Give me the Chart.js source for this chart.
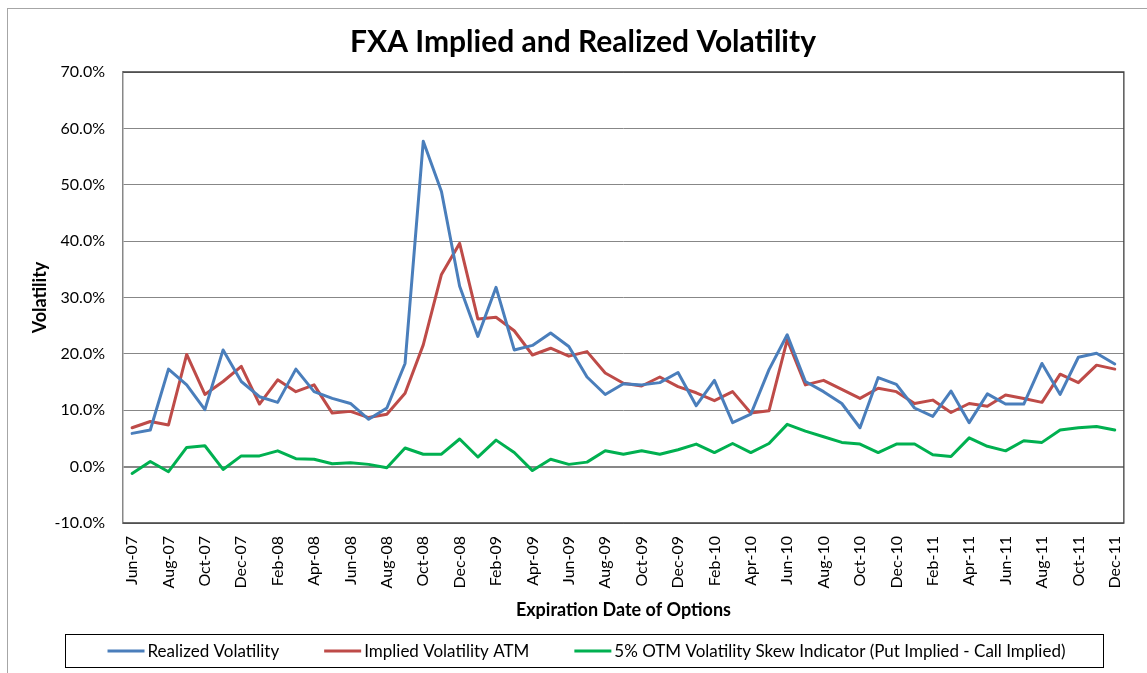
<!DOCTYPE html>
<html>
<head>
<meta charset="utf-8">
<script src="https://cdn.jsdelivr.net/npm/chart.js@4/dist/chart.umd.min.js"></script>
<style>
  html, body { margin: 0; padding: 0; background: #fff; }
  #wrap { width: 1147px; height: 673px; position: relative; }
</style>
</head>
<body>
<div id="wrap"><canvas id="chart"></canvas></div>
<script>
// — Data (percent values) —
const months = [
  'Jun-07','Jul-07','Aug-07','Sep-07','Oct-07','Nov-07','Dec-07',
  'Jan-08','Feb-08','Mar-08','Apr-08','May-08','Jun-08','Jul-08','Aug-08','Sep-08','Oct-08','Nov-08','Dec-08',
  'Jan-09','Feb-09','Mar-09','Apr-09','May-09','Jun-09','Jul-09','Aug-09','Sep-09','Oct-09','Nov-09','Dec-09',
  'Jan-10','Feb-10','Mar-10','Apr-10','May-10','Jun-10','Jul-10','Aug-10','Sep-10','Oct-10','Nov-10','Dec-10',
  'Jan-11','Feb-11','Mar-11','Apr-11','May-11','Jun-11','Jul-11','Aug-11','Sep-11','Oct-11','Nov-11','Dec-11'
];

const realizedVol = [
  5.9, 6.5, 17.3, 14.5, 10.1, 20.7, 15.1, 12.4, 11.4, 17.3,
  13.3, 12.1, 11.2, 8.4, 10.4, 18.3, 57.7, 48.8, 32.0, 23.1,
  31.8, 20.7, 21.5, 23.7, 21.3, 15.9, 12.8, 14.7, 14.5, 14.9,
  16.7, 10.8, 15.3, 7.8, 9.3, 17.2, 23.4, 15.1, 13.3, 11.2,
  6.9, 15.8, 14.6, 10.4, 8.9, 13.4, 7.8, 12.9, 11.1, 11.1,
  18.3, 12.8, 19.4, 20.1, 18.2
];

const impliedVolATM = [
  6.9, 8.0, 7.4, 19.9, 12.8, 15.1, 17.8, 11.1, 15.4, 13.3,
  14.5, 9.5, 9.8, 8.7, 9.3, 13.0, 21.6, 34.1, 39.6, 26.2,
  26.5, 24.1, 19.8, 21.0, 19.6, 20.4, 16.6, 14.8, 14.3, 15.9,
  14.2, 13.1, 11.7, 13.3, 9.5, 9.9, 22.5, 14.5, 15.3, 13.7,
  12.1, 13.9, 13.3, 11.2, 11.8, 9.6, 11.2, 10.7, 12.7, 12.1,
  11.4, 16.4, 14.9, 18.0, 17.3
];

const skewIndicator = [
  -1.2, 0.9, -0.9, 3.4, 3.7, -0.5, 1.9, 1.9, 2.8, 1.4,
  1.3, 0.5, 0.7, 0.4, -0.2, 3.3, 2.2, 2.2, 4.9, 1.7,
  4.7, 2.5, -0.7, 1.3, 0.4, 0.8, 2.8, 2.2, 2.8, 2.2,
  3.0, 4.0, 2.5, 4.1, 2.5, 4.1, 7.5, 6.3, 5.3, 4.3,
  4.0, 2.5, 4.0, 4.0, 2.1, 1.8, 5.1, 3.6, 2.8, 4.6,
  4.3, 6.5, 6.9, 7.1, 6.5
];

const seriesNames  = ['Realized Volatility', 'Implied Volatility ATM',
                      '5% OTM Volatility Skew Indicator (Put Implied - Call Implied)'];
const seriesColors = ['#4A7EBB', '#BE4B48', '#00B050'];

const chartTitle = 'FXA Implied and Realized Volatility';
const xTitle     = 'Expiration Date of Options';
const yTitle     = 'Volatility';

const FONT = 'Lato, "Liberation Sans", sans-serif';

// — Excel-style decorations: outer frame, plot frame, titles, boxed legend —
const excelDecor = {
  id: 'excelDecor',
  beforeDraw(chart) {
    const ctx = chart.ctx;
    ctx.save();
    ctx.fillStyle = '#fff';
    ctx.fillRect(0, 0, chart.width, chart.height);
    ctx.strokeStyle = '#a6a6a6';
    ctx.lineWidth = 1;
    ctx.strokeRect(7.5, 8.5, chart.width + 20, chart.height + 20);
    ctx.restore();
  },
  beforeDatasetsDraw(chart) {
    const { ctx, chartArea: a } = chart;
    ctx.save();
    ctx.strokeStyle = '#3f3f3f';
    ctx.lineWidth = 1.3;
    ctx.beginPath();
    ctx.moveTo(a.left, a.top);
    ctx.lineTo(a.right, a.top);
    ctx.lineTo(a.right, a.bottom);
    ctx.lineTo(a.left, a.bottom);
    ctx.stroke();
    ctx.restore();
  },
  afterDraw(chart) {
    const { ctx, chartArea: a } = chart;
    ctx.save();
    ctx.fillStyle = '#000';

    // chart title
    ctx.font = `bold 30px ${FONT}`;
    ctx.textAlign = 'center';
    ctx.textBaseline = 'alphabetic';
    ctx.fillText(chartTitle, 583, 52);

    // x axis title
    ctx.font = `bold 18px ${FONT}`;
    ctx.textBaseline = 'middle';
    ctx.fillText(xTitle, (a.left + a.right) / 2, 610);

    // y axis title
    ctx.save();
    ctx.translate(40, (a.top + a.bottom) / 2);
    ctx.rotate(-Math.PI / 2);
    ctx.fillText(yTitle, 0, 0);
    ctx.restore();

    // legend box
    ctx.strokeStyle = '#000';
    ctx.lineWidth = 1;
    ctx.strokeRect(65.5, 634.5, 1038, 33);

    ctx.font = `17px ${FONT}`;
    ctx.textAlign = 'left';
    const lineLen = 37, textGap = 3, itemGap = 45;
    const widths = seriesNames.map(t => ctx.measureText(t).width);
    const total = widths.reduce((s, w) => s + lineLen + textGap + w, 0) + itemGap * (seriesNames.length - 1);
    let x = 586.5 - total / 2;
    const y = 651;
    seriesNames.forEach((name, i) => {
      ctx.strokeStyle = seriesColors[i];
      ctx.lineWidth = 3;
      ctx.beginPath();
      ctx.moveTo(x, y);
      ctx.lineTo(x + lineLen, y);
      ctx.stroke();
      ctx.fillText(name, x + lineLen + textGap, y + 1);
      x += lineLen + textGap + widths[i] + itemGap;
    });
    ctx.restore();
  }
};

const datasets = [realizedVol, impliedVolATM, skewIndicator].map((values, i) => ({
  label: seriesNames[i],
  data: values,
  borderColor: seriesColors[i],
  backgroundColor: seriesColors[i],
  borderWidth: 3,
  pointRadius: 0,
  pointHoverRadius: 0,
  tension: 0,
  borderJoinStyle: 'round',
  borderCapStyle: 'round',
  fill: false
}));

new Chart(document.getElementById('chart'), {
  type: 'line',
  data: { labels: months, datasets },
  options: {
    responsive: true,
    maintainAspectRatio: false,
    animation: false,
    layout: { padding: { left: 8, right: 5, top: 72, bottom: 50 } },
    plugins: {
      legend: { display: false },
      title: { display: false },
      tooltip: { enabled: false }
    },
    scales: {
      x: {
        type: 'category',
        offset: true,
        grid: { display: false, drawTicks: false },
        border: { display: false },
        ticks: {
          autoSkip: false,
          minRotation: 90,
          maxRotation: 90,
          padding: 13,
          color: '#000',
          font: { family: FONT, size: 16 },
          callback: (v, i) => (i % 2 === 0 ? months[i] : '')
        },
        afterFit: scale => { scale.height = 100; }
      },
      y: {
        min: -10,
        max: 70,
        grid: {
          color: '#878787',
          lineWidth: ctx => (ctx.tick && ctx.tick.value === 0 ? 2 : 1),
          drawTicks: false
        },
        border: { display: true, color: '#878787', width: 1.5 },
        ticks: {
          stepSize: 10,
          padding: 18,
          color: '#000',
          font: { family: FONT, size: 16 },
          callback: v => v.toFixed(1) + '%'
        },
        afterFit: scale => { scale.width = 115; }
      }
    }
  },
  plugins: [excelDecor]
});
</script>
</body>
</html>
